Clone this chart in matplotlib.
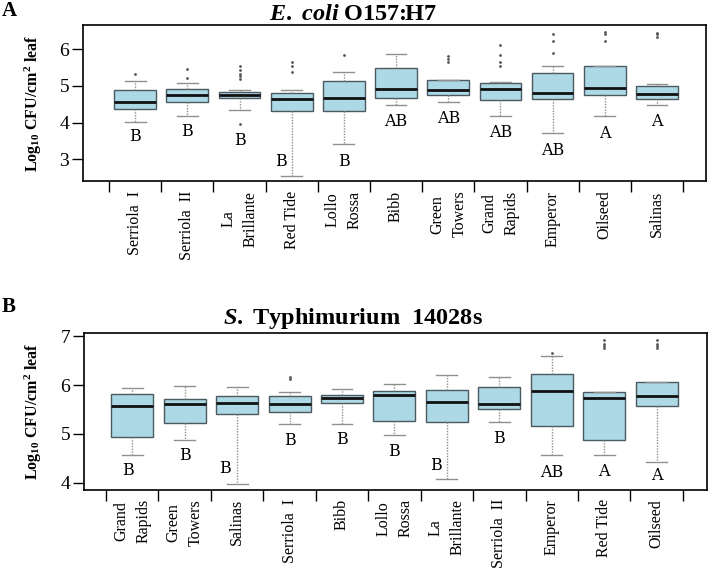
import matplotlib
matplotlib.use("Agg")
import matplotlib.pyplot as plt
import numpy as np

plt.rcParams['font.family'] = 'Liberation Serif'
plt.rcParams['mathtext.fontset'] = 'custom'
plt.rcParams['mathtext.rm'] = 'Liberation Serif:bold'
plt.rcParams['mathtext.it'] = 'Liberation Serif:italic:bold'
plt.rcParams['mathtext.bf'] = 'Liberation Serif:bold'

# panel A: E. coli O157:H7
cultivars_a = ['Serriola  I', 'Serriola  II', 'La\nBrillante', 'Red Tide', 'Lollo\nRossa', 'Bibb',
               'Green\nTowers', 'Grand\nRapids', 'Emperor', 'Oilseed', 'Salinas']
a_q1 = [4.36, 4.55, 4.68, 4.32, 4.32, 4.66, 4.75, 4.61, 4.64, 4.76, 4.64]
a_med = [4.55, 4.75, 4.75, 4.64, 4.66, 4.92, 4.89, 4.91, 4.82, 4.95, 4.77]
a_q3 = [4.89, 4.92, 4.84, 4.82, 5.13, 5.48, 5.16, 5.09, 5.35, 5.53, 5.00]
a_lo = [4.02, 4.19, 4.34, 2.55, 3.42, 4.48, 4.56, 4.19, 3.71, 4.19, 4.49]
a_hi = [5.14, 5.07, 4.89, 4.89, 5.38, 5.86, 5.16, 5.11, 5.53, 5.53, 5.05]
a_fliers = [[5.33], [5.22, 5.45], [3.96, 5.19, 5.27, 5.33, 5.44, 5.55], [5.39, 5.55, 5.66],
            [5.83], [], [5.66, 5.74, 5.82], [5.53, 5.64, 5.84, 6.12], [5.89, 6.23, 6.42],
            [6.22, 6.41, 6.48], [6.34, 6.41, 6.45]]
a_letters = ['B', 'B', 'B', 'B', 'B', 'AB', 'AB', 'AB', 'AB', 'A', 'A']
a_letter_y = [3.61, 3.75, 3.50, 2.95, 2.95, 4.03, 4.12, 3.73, 3.25, 3.71, 4.04]

# panel B: S. Typhimurium 14028s
cultivars_b = ['Grand\nRapids', 'Green\nTowers', 'Salinas', 'Serriola  I', 'Bibb', 'Lollo\nRossa',
               'La\nBrillante', 'Serriola  II', 'Emperor', 'Red Tide', 'Oilseed']
b_q1 = [4.94, 5.23, 5.40, 5.46, 5.64, 5.27, 5.24, 5.51, 5.16, 4.88, 5.58]
b_med = [5.58, 5.62, 5.63, 5.62, 5.73, 5.80, 5.66, 5.61, 5.88, 5.73, 5.77]
b_q3 = [5.82, 5.72, 5.78, 5.77, 5.79, 5.89, 5.90, 5.97, 6.23, 5.87, 6.06]
b_lo = [4.56, 4.87, 3.97, 5.20, 5.20, 4.97, 4.08, 5.24, 4.56, 4.56, 4.43]
b_hi = [5.95, 5.99, 5.97, 5.87, 5.93, 6.02, 6.20, 6.17, 6.60, 5.87, 6.06]
b_fliers = [[], [], [], [6.12, 6.16], [], [], [], [], [6.67],
            [6.76, 6.81, 6.85, 6.92], [6.76, 6.81, 6.85, 6.92]]
b_letters = ['B', 'B', 'B', 'B', 'B', 'B', 'B', 'B', 'AB', 'A', 'A']
b_letter_y = [4.24, 4.55, 4.29, 4.86, 4.88, 4.64, 4.36, 4.91, 4.21, 4.23, 4.14]

# small sideways nudges so letters clear the whiskers
a_letter_dx = {3: -0.2}
b_letter_dx = {0: -0.08, 2: -0.24, 6: -0.2}


def draw_panel(ax, names, q1, med, q3, lo, hi, fliers, letters, letter_y, letter_dx,
               xlim, ylim, yticks):
    stats = []
    for i in range(len(names)):
        stats.append(dict(q1=q1[i], med=med[i], q3=q3[i], whislo=lo[i], whishi=hi[i],
                          fliers=fliers[i]))
    pos = np.arange(1, len(names) + 1)
    ax.bxp(stats, positions=pos, widths=0.8, patch_artist=True,
           boxprops=dict(facecolor='#add8e6', edgecolor='#4a5a60', linewidth=1.0),
           medianprops=dict(color='#111111', linewidth=2.0),
           whiskerprops=dict(color='#909090', linewidth=1.0, linestyle=(0, (1, 1))),
           capprops=dict(color='#909090', linewidth=1.0),
           capwidths=0.4,
           flierprops=dict(marker='o', markersize=2.0, markerfacecolor='#555555',
                           markeredgecolor='none'))
    for i, lab in enumerate(letters):
        ax.text(pos[i] + letter_dx.get(i, 0), letter_y[i], lab, ha='center', va='center',
                fontsize=11.5, family='DejaVu Serif')
    ax.set_xlim(*xlim)
    ax.set_ylim(*ylim)
    ax.set_yticks(yticks)
    ax.set_yticklabels([str(t) for t in yticks], fontsize=14)
    ax.tick_params(axis='y', length=8, width=1.0, pad=2)
    ax.set_xticks(np.arange(0.5, len(names) + 1, 1))
    ax.set_xticklabels([])
    ax.tick_params(axis='x', which='major', length=8, width=1.0)
    ax.set_xticks(pos, labels=names, minor=True, rotation=90, fontsize=11.5,
                  multialignment='center', linespacing=1.5)
    ax.tick_params(axis='x', which='minor', length=0, pad=7)
    for s in ax.spines.values():
        s.set_linewidth(1.2)


fig = plt.figure(figsize=(7.08, 5.69), dpi=100)

ax1 = fig.add_axes([0.1172, 0.6819, 0.880, 0.2742])
draw_panel(ax1, cultivars_a, a_q1, a_med, a_q3, a_lo, a_hi, a_fliers, a_letters, a_letter_y,
           a_letter_dx, (0.0, 11.94), (2.41, 6.66), [3, 4, 5, 6])

ax2 = fig.add_axes([0.1186, 0.1397, 0.880, 0.2750])
draw_panel(ax2, cultivars_b, b_q1, b_med, b_q3, b_lo, b_hi, b_fliers, b_letters, b_letter_y,
           b_letter_dx, (0.08, 11.96), (3.86, 7.07), [4, 5, 6, 7])

ylab = r'Log$_{\mathregular{10}}$ CFU/cm$^{\mathregular{2}}$ leaf'
fig.text(0.047, 0.819, ylab, rotation=90, ha='center', va='center', fontsize=11.5,
         fontweight='bold')
fig.text(0.047, 0.277, ylab, rotation=90, ha='center', va='center', fontsize=11.5,
         fontweight='bold')

fig.text(0.4986, 0.975, r'$\mathit{E.\ coli}$ O157:H7', ha='center', va='center',
         fontsize=17.5, fontweight='bold')
fig.text(0.4986, 0.441, r'$\mathit{S.}$ Typhimurium  14028s', ha='center', va='center',
         fontsize=17.5, fontweight='bold')

fig.text(0.003, 0.98, 'A', ha='left', va='center', fontsize=15, fontweight='bold')
fig.text(0.003, 0.46, 'B', ha='left', va='center', fontsize=15, fontweight='bold')

fig.savefig('out.png', dpi=100)
